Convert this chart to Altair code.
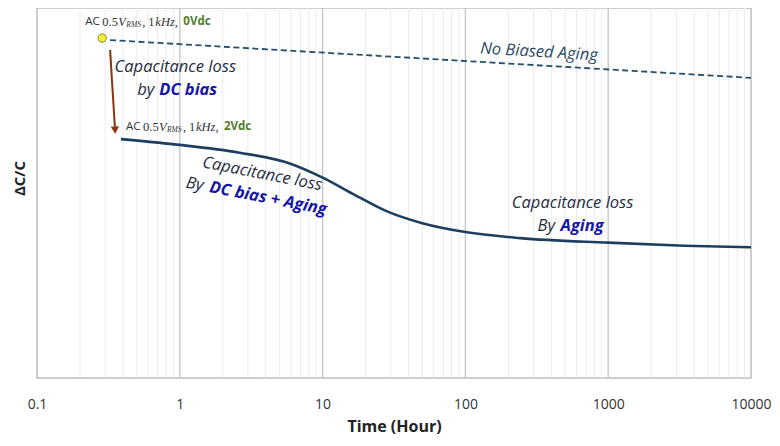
import altair as alt
import pandas as pd

# ---- data (x = time in hours, log scale; y = relative ΔC/C units)
solid_t = [0.387, 0.916, 2.62, 5.82, 10, 16.9, 28.6, 49.2, 100, 242, 1000, 3410, 10000]
solid_v = [-18.0, -18.7, -19.8, -21.2, -23.1, -25.4, -27.6, -29.1, -30.3, -31.1, -31.7, -32.1, -32.3]
dash_t = [0.325, 10000]
dash_v = [-4.9, -9.9]
dot_t = [0.286]
dot_v = [-4.63]
arrow_t = [0.325]
arrow_t2 = [0.352]
arrow_v = [-6.2]
arrow_v2 = [-16.8]
major_ticks = [0.1, 1, 10, 100, 1000, 10000]
minor_ticks = [m * d for d in [0.1, 1, 10, 100, 1000] for m in range(2, 10)]

X_DOMAIN = [0.1, 10000]
Y_DOMAIN = [-49.6, -0.66]

xs = alt.Scale(type="log", domain=X_DOMAIN, nice=False)
ys = alt.Scale(domain=Y_DOMAIN, nice=False, zero=False)

NAVY = "#1d3f5f"
TXT = "#1f2c40"
BLUE = "#1616a6"
GREEN = "#4f7d2b"
BROWN = "#8a3510"
SANS = "Open Sans"
SERIF = "Liberation Serif"

x_axis = alt.Axis(
    values=major_ticks, format="~g", grid=False, ticks=False, domain=False,
    labelFont=SANS, labelFontSize=14, labelColor="#333333", labelPadding=19,
    labelFlush=False, title="Time (Hour)", titleFont=SANS, titleFontSize=16,
    titleFontWeight="bold", titleColor="#222222", titlePadding=7,
)
y_axis = alt.Axis(
    labels=False, ticks=False, grid=False, domain=False, title="ΔC/C",
    titleFont=SANS, titleFontSize=15, titleFontWeight="bold", titleColor="#222222",
    titlePadding=10, titleY=170,
)


def xenc(field="t"):
    return alt.X(f"{field}:Q", scale=xs, axis=x_axis)


def yenc(field="v"):
    return alt.Y(f"{field}:Q", scale=ys, axis=y_axis)


minor = alt.Chart(pd.DataFrame({"t": minor_ticks})).mark_rule(
    color="#ebebeb", strokeWidth=1).encode(x=xenc())
major = alt.Chart(pd.DataFrame({"t": major_ticks[1:-1]})).mark_rule(
    color="#c4c4c4", strokeWidth=1.3).encode(x=xenc())

solid = alt.Chart(pd.DataFrame({"t": solid_t, "v": solid_v})).mark_line(
    color=NAVY, strokeWidth=2.6, interpolate="monotone").encode(x=xenc(), y=yenc())

dashed = alt.Chart(pd.DataFrame({"t": dash_t, "v": dash_v})).mark_line(
    color="#22506f", strokeWidth=1.8, strokeDash=[6, 3.5]).encode(x=xenc(), y=yenc())

dot = alt.Chart(pd.DataFrame({"t": dot_t, "v": dot_v})).mark_point(
    shape="circle", filled=True, size=70, color="#f2ee3c", stroke="#8a8a20",
    strokeWidth=1, opacity=1).encode(x=xenc(), y=yenc())

arrow_df = pd.DataFrame({"t": arrow_t, "t2": arrow_t2, "v": arrow_v, "v2": arrow_v2})
arrow = alt.Chart(arrow_df).mark_rule(color=BROWN, strokeWidth=2).encode(
    x=xenc(), x2="t2:Q", y=yenc(), y2="v2:Q")
head = alt.Chart(arrow_df).mark_point(
    shape="triangle-down", filled=True, size=70, color=BROWN, opacity=1,
    angle=356.5).encode(x=xenc("t2"), y=yenc("v2"))


def txt(t, v, text, size=16.5, color=TXT, style="italic", weight="normal",
        align="center", dx=0, dy=0, angle=0, font=SANS):
    df = pd.DataFrame({"t": [t], "v": [v], "label": [text]})
    return alt.Chart(df).mark_text(
        font=font, fontSize=size, fontStyle=style, fontWeight=weight,
        color=color, align=align, baseline="middle", dx=dx, dy=dy,
        angle=angle).encode(x=xenc(), y=yenc(), text="label:N")


texts = [
    # top-left: capacitance loss by DC bias
    txt(0.93, -8.47, "Capacitance loss"),
    txt(0.93, -8.47, "by", align="left", dx=-38, dy=23),
    txt(0.93, -8.47, "DC bias", color=BLUE, weight="bold", align="left", dx=-16, dy=23),
    # no biased aging
    txt(328, -6.48, "No Biased Aging", color="#2a4965", angle=3.4),
    # rotated block
    txt(3.78, -22.6, "Capacitance loss", angle=11),
    txt(3.78, -22.6, "By", align="left", dx=-73, dy=23, angle=11),
    txt(3.78, -22.6, "DC bias + Aging", color=BLUE, weight="bold", align="left",
        dx=-49, dy=23, angle=11),
    # by aging
    txt(563, -26.46, "Capacitance loss"),
    txt(563, -26.46, "By", align="left", dx=-35, dy=23),
    txt(563, -26.46, "Aging", color=BLUE, weight="bold", align="left", dx=-12, dy=23),
]

# measurement-condition labels (two anchors: 0 Vdc and 2 Vdc)
cond_t = [0.218, 0.42]
cond_v = [-2.51, -16.4]
bias_labels = ["0Vdc", "2Vdc"]
pieces = [
    (["AC", "AC"], 0, 0, SANS, "normal", "normal", 11.5, "#333333"),
    (["0.5", "0.5"], 17, 0, SERIF, "normal", "normal", 12.5, "#333333"),
    (["V", "V"], 33, 0, SERIF, "italic", "normal", 12.5, "#333333"),
    (["RMS", "RMS"], 41, 3, SERIF, "italic", "normal", 7.5, "#333333"),
    ([",", ","], 57, 0, SERIF, "normal", "normal", 12.5, "#333333"),
    (["1", "1"], 63, 0, SERIF, "normal", "normal", 12.5, "#333333"),
    (["kHz,", "kHz,"], 70, 0, SERIF, "italic", "normal", 12.5, "#333333"),
    (bias_labels, 98, 0, SANS, "normal", "bold", 11.5, GREEN),
]
cond_layers = []
for labels, dx, dy, font, style, weight, size, color in pieces:
    df = pd.DataFrame({"t": cond_t, "v": cond_v, "label": labels})
    cond_layers.append(
        alt.Chart(df).mark_text(
            font=font, fontStyle=style, fontWeight=weight, fontSize=size,
            color=color, align="left", baseline="middle", dx=dx, dy=dy,
        ).encode(x=xenc(), y=yenc(), text="label:N")
    )

chart = alt.layer(
    minor, major, dashed, solid, arrow, head, dot, *texts, *cond_layers
).properties(
    width=714, height=370,
    autosize=alt.AutoSizeParams(type="none"),
    padding={"left": 29, "top": 0, "right": 21, "bottom": 60},
).configure_view(stroke="#bdbdbd", strokeWidth=1.5)

chart.save("out.html", embed_options={"renderer": "svg", "actions": False})
